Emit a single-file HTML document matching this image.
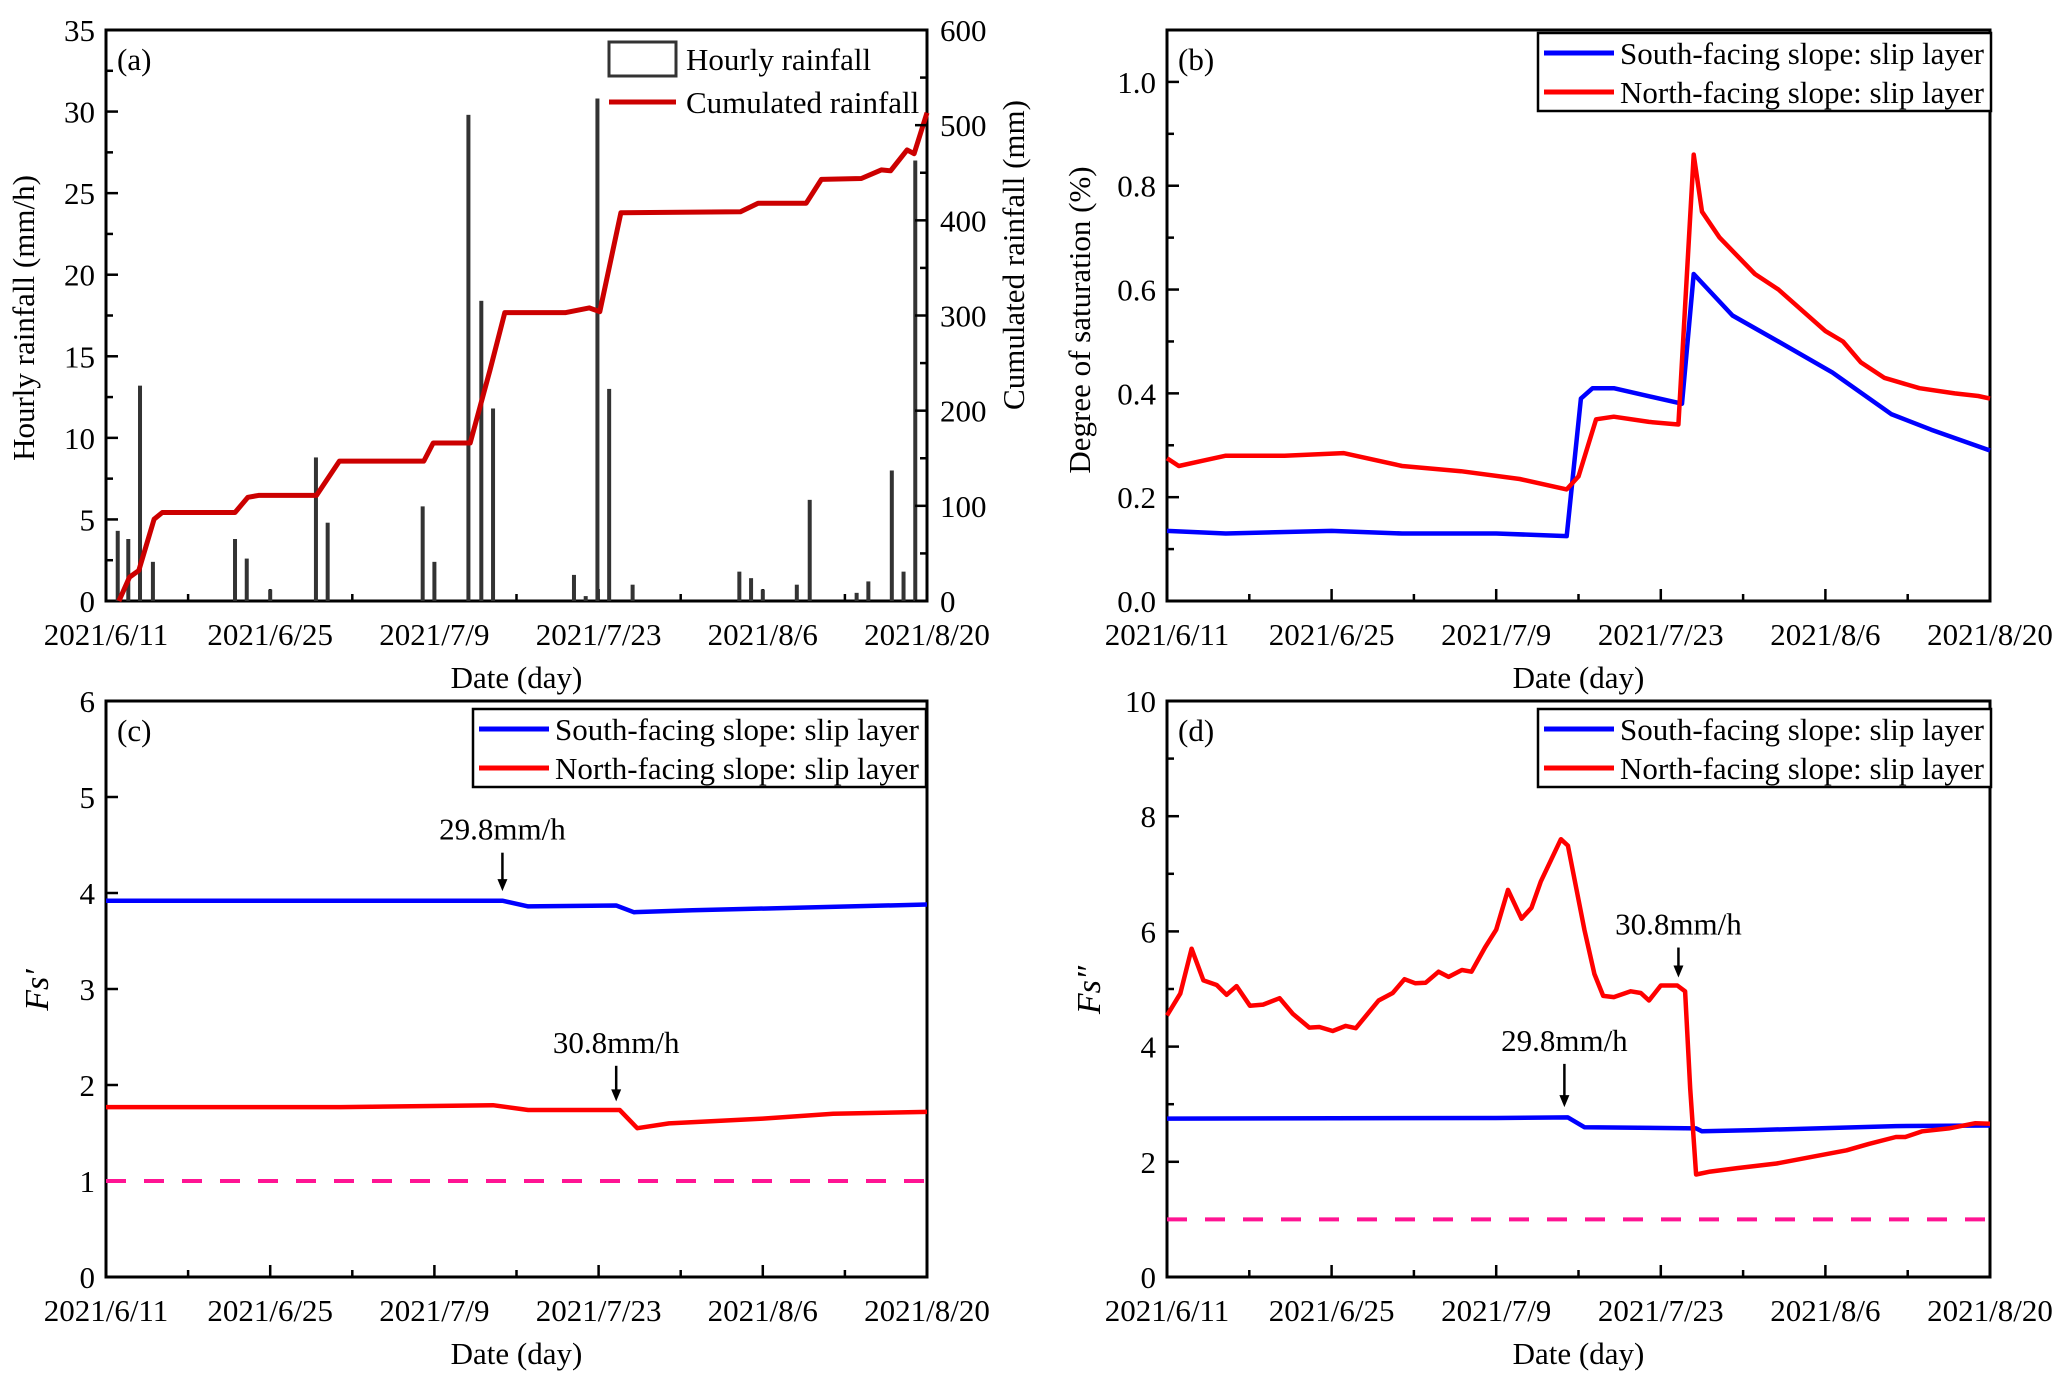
<!DOCTYPE html>
<html><head><meta charset="utf-8">
<style>
html,body{margin:0;padding:0;background:#fff;}
svg{display:block;font-family:"Liberation Serif",serif;}
</style></head>
<body>
<svg id="fig" width="2067" height="1381" viewBox="0 0 2067 1381" xmlns="http://www.w3.org/2000/svg"></svg>
<script>
// ---------- DATA ----------
const xTickLabels = ["2021/6/11","2021/6/25","2021/7/9","2021/7/23","2021/8/6","2021/8/20"];
const xTickDays = [0,14,28,42,56,70];

// (a) hourly rainfall
const rainDays = [1.0,1.9,2.9,4.0,11.0,12.0,14.0,17.9,18.9,27.0,28.0,30.9,32.0,33.0,39.9,40.9,41.9,42.9,44.9,54.0,55.0,56.0,58.9,60.0,64.0,65.0,67.0,68.0,69.0];
const rainVals = [4.3,3.8,13.2,2.4,3.8,2.6,0.7,8.8,4.8,5.8,2.4,29.8,18.4,11.8,1.6,0.3,30.8,13.0,1.0,1.8,1.4,0.7,1.0,6.2,0.5,1.2,8.0,1.8,27.0];
const cumDays = [1.1,2.0,2.8,4.1,4.8,11.0,12.1,13.0,17.95,19.9,27.1,27.9,31.05,32.75,34.0,39.2,41.2,42.1,43.9,54.1,55.6,59.7,61.0,64.4,66.1,66.9,68.3,68.9,70.0];
const cumVals = [0,25,32,86,93,93,109,111,111,147,147,166,166,243,303,303,308,304,408,409,418,418,443,444,453,452,474,470,513];
const aLeftTicks = [0,5,10,15,20,25,30,35];
const aRightTicks = [0,100,200,300,400,500,600];

// (b) degree of saturation
const bSouthDays = [0,5,14,20,28,34.0,35.2,36.2,38,43.8,44.8,48.1,52,56.6,61.6,65,70];
const bSouthVals = [0.135,0.13,0.135,0.13,0.13,0.125,0.39,0.41,0.41,0.38,0.63,0.55,0.5,0.44,0.36,0.33,0.29];
const bNorthDays = [0,1,3,5,10,15,20,25,30,34,35,36.5,38,41,43.5,44.8,45.5,47,50,52,56,57.5,59,61,64,67,69,70];
const bNorthVals = [0.275,0.26,0.27,0.28,0.28,0.285,0.26,0.25,0.235,0.215,0.24,0.35,0.355,0.345,0.34,0.86,0.75,0.7,0.63,0.6,0.52,0.5,0.46,0.43,0.41,0.40,0.395,0.39];
const bTicks = [0,0.2,0.4,0.6,0.8,1.0];
const bTickLabels = ["0.0","0.2","0.4","0.6","0.8","1.0"];

// (c) Fs'
const cSouthDays = [0,33.8,36,43.5,45,50,70];
const cSouthVals = [3.92,3.92,3.86,3.87,3.80,3.82,3.88];
const cNorthDays = [0,20,33,36,43.8,45.3,48,56,62,70];
const cNorthVals = [1.77,1.77,1.79,1.74,1.74,1.55,1.60,1.65,1.70,1.72];
const cTicks = [0,1,2,3,4,5,6];

// (d) Fs''
const dNorthDays = [0,1.13,2.09,3.10,4.23,5.07,5.92,7.05,8.17,9.58,10.7,12.1,12.96,14.09,15.2,16.06,18.0,19.2,20.2,21.1,22.0,23.1,23.95,25.08,25.9,27.05,28.0,29.0,30.15,31.0,31.8,33.5,34.1,35.5,36.35,37.1,38.0,39.45,40.3,41.0,42.0,43.4,44.07,44.5,45.0,46.2,48.5,51.85,54.7,57.8,59.7,62.0,62.8,64.25,66.5,68.76,70];
const dNorthVals = [4.54,4.92,5.70,5.15,5.07,4.90,5.05,4.71,4.73,4.84,4.57,4.33,4.34,4.27,4.36,4.32,4.80,4.93,5.17,5.10,5.11,5.30,5.21,5.33,5.30,5.72,6.03,6.72,6.22,6.41,6.87,7.60,7.49,6.03,5.26,4.88,4.86,4.96,4.93,4.80,5.06,5.06,4.96,3.27,1.78,1.83,1.89,1.97,2.08,2.20,2.31,2.43,2.43,2.53,2.58,2.67,2.66];
const dSouthDays = [0,28,34.1,35.5,45,45.5,50,62,70];
const dSouthVals = [2.75,2.76,2.77,2.60,2.58,2.53,2.55,2.62,2.63];
const dTicks = [0,2,4,6,8,10];

// ---------- HELPERS ----------
const NS="http://www.w3.org/2000/svg";
const svg=document.getElementById('fig');
const FT=31, FL=31;
function mk(tag,attrs,parent,text){const e=document.createElementNS(NS,tag);for(const k in attrs)e.setAttribute(k,attrs[k]);if(text!==undefined)e.textContent=text;(parent||svg).appendChild(e);return e;}
function scale(d0,d1,r0,r1){return v=>r0+(v-d0)/(d1-d0)*(r1-r0);}

function panel(id,L,R,T,B,ymax,yTicks,yLabels,yMinor){
  const g=mk('g',{});
  
  
  const x=scale(0,70,L,R), y=scale(0,ymax,B,T);
  const fr=mk('rect',{x:L,y:T,width:R-L,height:B-T,fill:'none',stroke:'#000','stroke-width':3},g);
  
  
  for(let d=0;d<=70;d+=7){
    const major=(d%14===0);
    mk('line',{x1:x(d),x2:x(d),y1:B,y2:B-(major?12:7),stroke:'#000','stroke-width':2.5},g);
  }
  xTickDays.forEach((d,i)=>{
    const t=mk('text',{x:x(d),y:B+44,'font-size':FT,'text-anchor':'middle'},g,xTickLabels[i]);
    
    
  });
  const xt=mk('text',{x:(L+R)/2,y:B+87,'font-size':FL,'text-anchor':'middle'},g,'Date (day)');
  
  
  yTicks.forEach((v,i)=>{
    mk('line',{x1:L,x2:L+12,y1:y(v),y2:y(v),stroke:'#000','stroke-width':2.5},g);
    const t=mk('text',{x:L-11,y:y(v)+11,'font-size':FT,'text-anchor':'end'},g,yLabels[i]);
    
    
  });
  if(yMinor){for(let v=yMinor;v<ymax;v+=yMinor*2){mk('line',{x1:L,x2:L+7,y1:y(v),y2:y(v),stroke:'#000','stroke-width':2.5},g);}}
  const lab=mk('text',{x:L+11,y:T+40,'font-size':FL},g,'('+id+')');
  
  
  return {g,x,y};
}
function line(p,days,vals,color,name){
  const pts=days.map((d,i)=>p.x(d).toFixed(1)+','+p.y(vals[i]).toFixed(1)).join(' ');
  const e=mk('polyline',{points:pts,fill:'none',stroke:color,'stroke-width':4.5,'stroke-linejoin':'round'},p.g);
  
  
}
function legend(g,bx,by){
  const box=mk('rect',{x:bx,y:by,width:453,height:78,fill:'#fff',stroke:'#000','stroke-width':2.5},g);
  
  
  [['#0000ff','South-facing slope: slip layer'],['#ff0000','North-facing slope: slip layer']].forEach((it,i)=>{
    const yy=by+20+i*39;
    mk('line',{x1:bx+6,x2:bx+76,y1:yy,y2:yy,stroke:it[0],'stroke-width':5},g);
    const t=mk('text',{x:bx+82,y:yy+11,'font-size':FL,textLength:364,lengthAdjust:'spacingAndGlyphs'},g,it[1]);
    
    
  });
}
function threshold(p,L,R){
  const e=mk('line',{x1:L,x2:R,y1:p.y(1),y2:p.y(1),stroke:'#ff1493','stroke-width':4,'stroke-dasharray':'20,18'},p.g);
  
  
}
function annot(p,day,yTop,yBot,label){
  const X=p.x(day);
  mk('line',{x1:X,x2:X,y1:p.y(yTop),y2:p.y(yBot)-10,stroke:'#000','stroke-width':2.5},p.g);
  mk('polygon',{points:`${X-5},${p.y(yBot)-12} ${X+5},${p.y(yBot)-12} ${X},${p.y(yBot)}`,fill:'#000'},p.g);
  const t=mk('text',{x:X,y:p.y(yTop)-13,'font-size':FL,'text-anchor':'middle'},p.g,label);
  
  
}
function ytitle(g,x,y,text,italic){
  const t=mk('text',{x:x,y:y,'font-size':italic?34:FL,'text-anchor':'middle',transform:`rotate(-90 ${x} ${y})`},g,text);
  if(italic)t.setAttribute('font-style','italic');
  
  
  return t;
}

// ---------- PANEL A ----------
{
  const L=106,R=927,T=30,B=601;
  const p=panel('a',L,R,T,B,35,aLeftTicks,aLeftTicks.map(String),2.5);
  const yr=scale(0,600,B,T);
  rainDays.forEach((d,i)=>{
    const b=mk('rect',{x:p.x(d)-2,y:p.y(rainVals[i]),width:4,height:B-p.y(rainVals[i]),fill:'#333'},p.g);
    
    
  });
  const pts=cumDays.map((d,i)=>p.x(d).toFixed(1)+','+yr(cumVals[i]).toFixed(1)).join(' ');
  const cl=mk('polyline',{points:pts,fill:'none',stroke:'#cc0000','stroke-width':5,'stroke-linejoin':'round'},p.g);
  
  
  aRightTicks.forEach(v=>{
    mk('line',{x1:R,x2:R-12,y1:yr(v),y2:yr(v),stroke:'#000','stroke-width':2.5},p.g);
    const t=mk('text',{x:R+13,y:yr(v)+11,'font-size':FT},p.g,String(v));
    
    
  });
  for(let v=50;v<600;v+=100)mk('line',{x1:R,x2:R-7,y1:yr(v),y2:yr(v),stroke:'#000','stroke-width':2.5},p.g);
  ytitle(p.g,34,318,'Hourly rainfall (mm/h)');
  ytitle(p.g,1024,255,'Cumulated rainfall (mm)');
  const lr=mk('rect',{x:609,y:42,width:67,height:34,fill:'none',stroke:'#333','stroke-width':3},p.g);
  
  
  const t1=mk('text',{x:686,y:70,'font-size':FL},p.g,'Hourly rainfall');
  
  
  mk('line',{x1:609,x2:676,y1:102,y2:102,stroke:'#cc0000','stroke-width':5},p.g);
  const t2=mk('text',{x:686,y:113,'font-size':FL},p.g,'Cumulated rainfall');
  
  
}
// ---------- PANEL B ----------
{
  const L=1167,R=1990,T=30,B=601;
  const p=panel('b',L,R,T,B,1.1,bTicks,bTickLabels,0.1);
  line(p,bSouthDays,bSouthVals,'#0000ff','south-slope-line');
  line(p,bNorthDays,bNorthVals,'#ff0000','north-slope-line');
  ytitle(p.g,1090,320,'Degree of saturation (%)');
  legend(p.g,1538,33);
}
// ---------- PANEL C ----------
{
  const L=106,R=927,T=701,B=1277;
  const p=panel('c',L,R,T,B,6,cTicks,cTicks.map(String),0);
  threshold(p,L,R);
  line(p,cSouthDays,cSouthVals,'#0000ff','south-slope-line');
  line(p,cNorthDays,cNorthVals,'#ff0000','north-slope-line');
  annot(p,33.8,4.42,4.02,'29.8mm/h');
  annot(p,43.5,2.2,1.83,'30.8mm/h');
  ytitle(p.g,48,990,"Fs′",true);
  legend(p.g,473,709);
}
// ---------- PANEL D ----------
{
  const L=1167,R=1990,T=701,B=1277;
  const p=panel('d',L,R,T,B,10,dTicks,dTicks.map(String),1);
  threshold(p,L,R);
  line(p,dSouthDays,dSouthVals,'#0000ff','south-slope-line');
  line(p,dNorthDays,dNorthVals,'#ff0000','north-slope-line');
  annot(p,33.8,3.7,2.95,'29.8mm/h');
  annot(p,43.5,5.72,5.2,'30.8mm/h');
  ytitle(p.g,1100,990,"Fs″",true);
  legend(p.g,1538,709);
}
</script>
</body></html>
